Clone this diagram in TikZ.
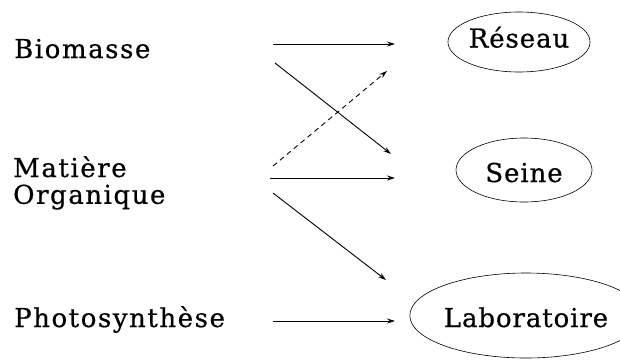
\documentclass[tikz,border=0pt]{standalone}
\usepackage{fontspec}
\usetikzlibrary{arrows.meta,shapes.geometric}
\newfontfamily\leftfont[LetterSpace=6,FakeBold=0.6]{DejaVu Serif}
\newfontfamily\rightfont[LetterSpace=3.5,FakeBold=0.6]{DejaVu Serif}
\tikzset{
  srclabel/.style={inner sep=0pt, anchor=base west, font=\leftfont\fontsize{26}{25}\selectfont},
  target/.style={ellipse, draw, line width=0.6pt, inner sep=0pt, font=\rightfont\fontsize{26}{25}\selectfont},
  flow/.style={line width=0.9pt, -{Stealth[length=8pt,width=5pt]}},
  flowdash/.style={flow, dash pattern=on 5pt off 4pt}
}
\begin{document}
\begin{tikzpicture}[x=1pt,y=-1pt]
\useasboundingbox (0,0) rectangle (620,360);
% source labels
\node[srclabel] (bio) at (14,58) {Biomasse};
\node[srclabel] (mat) at (13,177) {\begin{tabular}[t]{@{}l@{}}Matière\\Organique\end{tabular}};
\node[srclabel] (pho) at (14,327) {Photosynthèse};
% targets
\node[target, minimum width=128pt, minimum height=60pt, text height=19pt, text depth=8pt] (res) at (519,42) {Réseau};
\node[target, minimum width=136pt, minimum height=64pt, text height=24pt, text depth=0pt] (sei) at (524,170) {Seine};
\node[target, minimum width=192pt, minimum height=85pt, text height=23pt, text depth=0pt] (lab) at (526,315.5) {Laboratoire};
% free arrow ends
\coordinate (bioA) at (273,44);   \coordinate (resIn) at (395,44);
\coordinate (bioB) at (275,63);   \coordinate (seiInB) at (391,154);
\coordinate (matA) at (273,166);  \coordinate (resInB) at (387,71);
\coordinate (matB) at (270,178);  \coordinate (seiIn) at (395,178);
\coordinate (matC) at (273,193);  \coordinate (labInB) at (386,280);
\coordinate (phoA) at (273,321);  \coordinate (labIn) at (395,321);
% connectors
\draw[flow] (bioA) -- (resIn);
\draw[flow] (bioB) -- (seiInB);
\draw[flowdash] (matA) -- (resInB);
\draw[flow] (matB) -- (seiIn);
\draw[flow] (matC) -- (labInB);
\draw[flow] (phoA) -- (labIn);
\end{tikzpicture}
\end{document}
